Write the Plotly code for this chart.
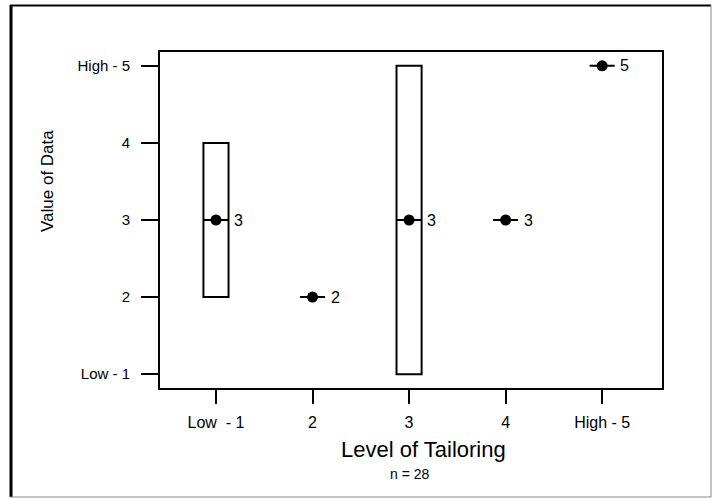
import plotly.graph_objects as go

# ---- data ----
levels = [1, 2, 3, 4, 5]
q1 = [2, 2, 1, 3, 5]
medians = [3, 2, 3, 3, 5]
q3 = [4, 2, 5, 3, 5]
median_labels = ["3", "2", "3", "3", "5"]
x_tick_vals = [1, 2, 3, 4, 5]
x_tick_text = ["Low  - 1", "2", "3", "4", "High - 5"]
y_tick_vals = [1, 2, 3, 4, 5]
y_tick_text = ["Low - 1", "2", "3", "4", "High - 5"]
x_title = "Level of Tailoring"
y_title = "Value of Data"
n_note = "n = 28"

W, H = 712, 498
ML, MR, MT, MB = 160, 50, 52, 110
PW, PH = W - ML - MR, H - MT - MB

def px_x(p):
    return (p - ML) / PW

def px_y(p):
    return (H - MB - p) / PH

FONT = "Liberation Sans, Arial, sans-serif"

fig = go.Figure()
fig.add_trace(go.Box(
    x=levels, q1=q1, median=medians, q3=q3,
    lowerfence=q1, upperfence=q3,
    width=0.26, whiskerwidth=0,
    fillcolor="white", line=dict(color="black", width=2),
    boxpoints=False, hoverinfo="skip", showlegend=False,
))
fig.add_trace(go.Scatter(
    x=levels, y=medians, mode="markers",
    marker=dict(color="black", size=11),
    hoverinfo="skip", showlegend=False,
))

annotations = []
for xv, yv, lab in zip(levels, medians, median_labels):
    annotations.append(dict(
        x=xv, y=yv, xref="x", yref="y", text=lab, showarrow=False,
        xanchor="left", yanchor="middle", xshift=16,
        font=dict(family=FONT, size=16, color="black"),
    ))
annotations.append(dict(
    x=px_x(423), y=px_y(449), xref="paper", yref="paper", text=x_title,
    showarrow=False, xanchor="center", yanchor="middle",
    font=dict(family=FONT, size=22, color="black"),
))
annotations.append(dict(
    x=px_x(410), y=px_y(474), xref="paper", yref="paper", text=n_note,
    showarrow=False, xanchor="center", yanchor="middle",
    font=dict(family=FONT, size=14, color="black"),
))
annotations.append(dict(
    x=px_x(47), y=px_y(181), xref="paper", yref="paper", text=y_title,
    showarrow=False, xanchor="center", yanchor="middle", textangle=-90,
    font=dict(family=FONT, size=17, color="black"),
))

shapes = [
    dict(type="line", xref="paper", yref="paper", x0=px_x(11), x1=px_x(11),
         y0=px_y(5), y1=px_y(497), line=dict(color="black", width=3)),
    dict(type="line", xref="paper", yref="paper", x0=px_x(10), x1=px_x(711),
         y0=px_y(5.5), y1=px_y(5.5), line=dict(color="black", width=2)),
    dict(type="line", xref="paper", yref="paper", x0=px_x(10), x1=px_x(711),
         y0=px_y(497), y1=px_y(497), line=dict(color="#888888", width=1)),
    dict(type="line", xref="paper", yref="paper", x0=px_x(711), x1=px_x(711),
         y0=px_y(5), y1=px_y(497), line=dict(color="#888888", width=1)),
]

fig.update_layout(
    width=W, height=H,
    margin=dict(l=ML, r=MR, t=MT, b=MB, pad=0),
    paper_bgcolor="white", plot_bgcolor="white",
    font=dict(family=FONT, color="black"),
    annotations=annotations, shapes=shapes,
    showlegend=False,
)
fig.update_xaxes(
    range=[0.42, 5.62], tickmode="array", tickvals=x_tick_vals, ticktext=x_tick_text,
    showgrid=False, zeroline=False, showline=True, linecolor="black", linewidth=2,
    mirror=True, ticks="outside", ticklen=14, tickwidth=2, tickcolor="black",
    tickfont=dict(family=FONT, size=16, color="black"), ticklabelstandoff=5,
)
fig.update_yaxes(
    range=[0.82, 5.18], tickmode="array", tickvals=y_tick_vals, ticktext=y_tick_text,
    showgrid=False, zeroline=False, showline=True, linecolor="black", linewidth=2,
    mirror=True, ticks="outside", ticklen=17, tickwidth=2, tickcolor="black",
    tickfont=dict(family=FONT, size=15, color="black"), ticklabelstandoff=8,
)

fig.write_html(
    "out.html",
    config={"displayModeBar": False},
    post_script="document.body.style.margin='0';document.body.style.overflow='hidden';",
)
